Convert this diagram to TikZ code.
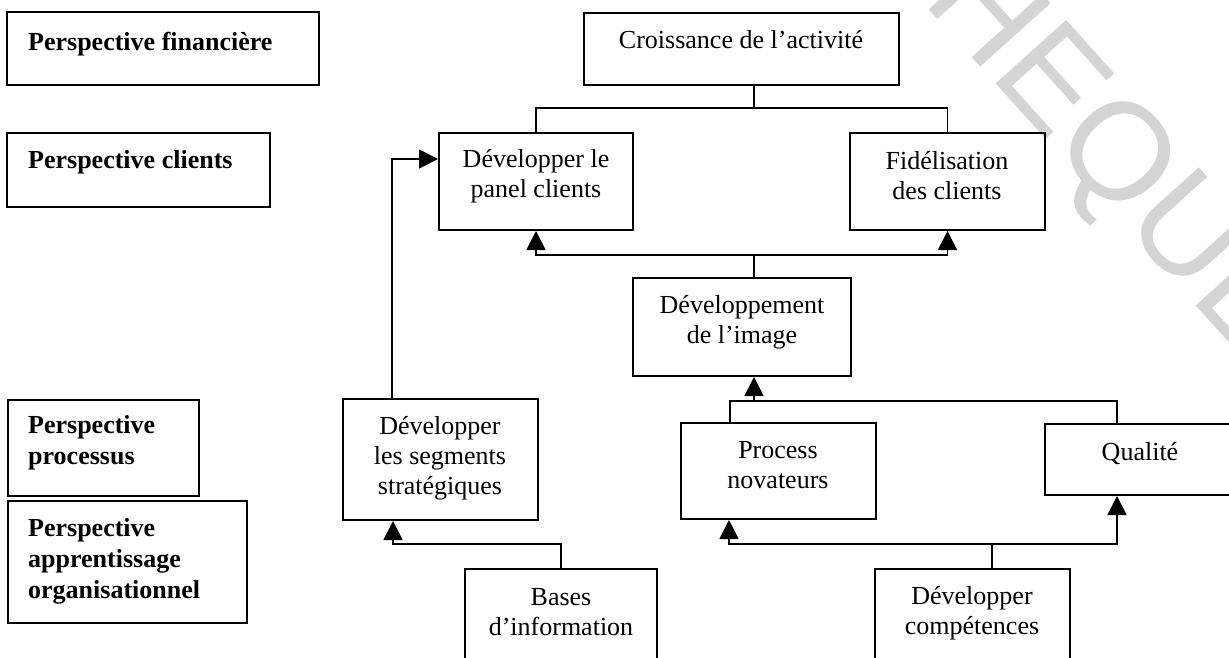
\documentclass[tikz,border=0pt]{standalone}
\usepackage{fontspec}
\setmainfont{Liberation Serif}
\newfontfamily\wmfont{Liberation Sans}
\usetikzlibrary{arrows.meta}
\tikzset{
  boxshape/.style={draw=black, line width=2pt, rectangle, inner sep=0pt},
  lbl/.style={font=\fontsize{26}{30}\selectfont, align=center, inner sep=0pt},
  lbllt/.style={font=\fontsize{26}{31}\selectfont\bfseries, align=left, inner sep=0pt},
  conn/.style={draw=black, line width=1.7pt},
  arr/.style={conn, -{Triangle[width=19pt,length=19pt]}},
}
\newcommand{\mybox}[5]{% name, x1, y1, x2, y2
  \node[boxshape, minimum width={(#4-#2)*1pt}, minimum height={(#5-#3)*1pt}] (#1) at ({(#2+#4)/2},{(#3+#5)/2}) {};}
\begin{document}
\begin{tikzpicture}[x=1pt,y=-1pt]
\useasboundingbox (0,0) rectangle (1229,658);
\clip (0,0) rectangle (1229,658);
\fill[white] (0,0) rectangle (1229,658);
% watermark
\node[rotate=-48, text=black!17, font=\fontsize{138}{138}\selectfont\wmfont, inner sep=0pt] (wm) at (1112,160) {HEQUE};
% left column
\mybox{fin}{7}{12}{319}{85}
\mybox{cli}{7}{133}{270}{207}
\mybox{pro}{8}{400}{199}{496}
\mybox{app}{8}{501}{247}{623}
\node[lbllt, anchor=base west] (finT) at (28,51) {Perspective financière};
\node[lbllt, anchor=base west] (cliT) at (28,168) {Perspective clients};
\node[lbllt, anchor=west] (proT) at (28,443) {Perspective\\processus};
\node[lbllt, anchor=west] (appT) at (28,561) {Perspective\\apprentissage\\organisationnel};
% right boxes
\mybox{croiss}{584}{13}{899}{85}
\mybox{panel}{439}{133}{633}{230}
\mybox{fidel}{850}{133}{1045}{230}
\mybox{devimg}{633}{278}{851}{376}
\mybox{seg}{343}{399}{538}{520}
\mybox{proc}{681}{423}{876}{519}
\mybox{qual}{1045}{424}{1240}{495}
\mybox{bases}{465}{569}{657}{700}
\mybox{comp}{875}{569}{1070}{700}
\node[lbl, anchor=base] (croissT) at (741,49) {Croissance de l’activité};
\node[lbl] (panelT) at (536,176) {Développer le\\panel clients};
\node[lbl] (fidelT) at (947,176) {Fidélisation\\des clients};
\node[lbl] (devimgT) at (742,322) {Développement\\de l’image};
\node[lbl] (segT) at (440,458) {Développer\\les segments\\stratégiques};
\node[lbl] (procT) at (778,465) {Process\\novateurs};
\node[lbl, anchor=base] (qualT) at (1140,460) {Qualité};
\node[lbl] (basesT) at (561,612) {Bases\\d’information};
\node[lbl] (compT) at (972,613) {Développer\\compétences};
% junction points
\coordinate (j1) at (754,108);
\coordinate (j2) at (754,255);
\coordinate (j3) at (392,159);
\coordinate (j4) at (393,544);
\coordinate (j5) at (730,401);
\coordinate (j6) at (1117,401);
\coordinate (j7) at (992,544);
\coordinate (j8) at (729,544);
% connectors
\draw[conn] (croiss.south -| j1) -- (j1);
\draw[conn] (panel.north) |- (j1) -| (fidel.north);
\draw[conn] (devimg.north -| j2) -- (j2);
\draw[arr] (j2) -| (panel.south);
\draw[arr] (j2) -| (fidel.south);
\draw[arr] (seg.north -| j3) |- (panel.west |- j3);
\draw[arr] (bases.north) |- (j4) -- (seg.south -| j4);
\draw[conn] (proc.north -| j5) -- (j5) -- (j6) -- (qual.north -| j6);
\draw[arr] (j2 |- j5) -- (devimg.south -| j2);
\draw[conn] (comp.north -| j7) -- (j7);
\draw[arr] (j7) -| (proc.south -| j8);
\draw[arr] (j7) -| (qual.south -| j6);
\end{tikzpicture}
\end{document}
